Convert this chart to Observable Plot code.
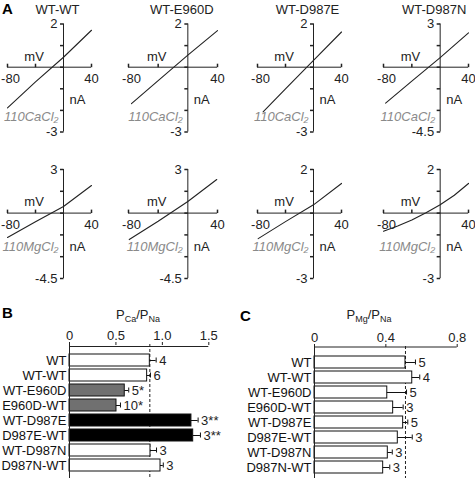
<!DOCTYPE html>
<html><head><meta charset="utf-8">
<script src="https://cdn.jsdelivr.net/npm/d3@7"></script>
<script src="https://cdn.jsdelivr.net/npm/@observablehq/plot@0.6"></script>
<style>
html,body{margin:0;padding:0;background:#fff;}
#fig{position:relative;width:475px;height:478px;overflow:hidden;font-family:"Liberation Sans",Arial,sans-serif;color:#222;}
.letter{position:absolute;font-weight:bold;font-size:15px;line-height:17px;color:#000;}
.ptitle{position:absolute;font-size:13px;line-height:13px;white-space:nowrap;transform:translateX(-50%);}
.ptitle sub{font-size:9px;vertical-align:-3px;line-height:0;}
</style></head><body><div id="fig"></div>
<script>
// ---------- Panel A data (I–V curves) ----------
const ivTitles = ["WT-WT", "WT-E960D", "WT-D987E", "WT-D987N"];
const voltRange = [-80, 40];
const voltTicks = [-80, -40, 40];
const caIon = "110CaCl₂";
const mgIon = "110MgCl₂";

const caVolt = [[-80, -40, 0, 40], [-76, -40, 0, 40], [-72, -40, 0, 40], [-77, -40, 0, 40]];
const caCurr = [[-1.88, -0.68, 0.46, 1.71], [-1.69, -0.62, 0.56, 1.69], [-2.07, -1.0, 0.32, 1.63], [-2.49, -0.97, 0.67, 2.38]];
const caYMin = [-3, -3, -3, -4.5];
const caYMax = [2, 2, 2, 3];
const caYTicks = [[-3, -2, -1, 0, 1, 2], [-3, -2, -1, 0, 1, 2], [-3, -2, -1, 0, 1, 2], [-4.5, -3, -1.5, 0, 1.5, 3]];

const mgVolt = [[-80, -40, 0, 40], [-79, -40, 0, 39], [-79, -40, 0, 40], [-80, -60, -40, -20, 0, 20, 40]];
const mgCurr = [[-1.68, -0.6, 0.45, 1.9], [-1.82, -0.56, 0.8, 2.31], [-1.17, -0.39, 0.38, 1.36], [-0.83, -0.59, -0.32, 0.02, 0.38, 0.82, 1.36]];
const mgYMin = [-4.5, -4.5, -3, -3];
const mgYMax = [3, 3, 2, 2];
const mgYTicks = [[-4.5, -3, -1.5, 0, 1.5, 3], [-4.5, -3, -1.5, 0, 1.5, 3], [-3, -2, -1, 0, 1, 2], [-3, -2, -1, 0, 1, 2]];

// ---------- Panels B, C data ----------
const mutants = ["WT", "WT-WT", "WT-E960D", "E960D-WT", "WT-D987E", "D987E-WT", "WT-D987N", "D987N-WT"];
const caGroups = ["open", "open", "E960D", "E960D", "D987E", "D987E", "open", "open"];
const pCa = [0.865, 0.836, 0.595, 0.506, 1.313, 1.332, 0.872, 0.98];
const pCaErr = [0.068, 0.036, 0.043, 0.043, 0.072, 0.078, 0.065, 0.03];
const pCaN = ["4", "6", "5*", "10*", "3**", "3**", "3", "3"];
const pCaTicks = [0, 0.5, 1.0, 1.5];

const pMg = [0.510, 0.548, 0.408, 0.441, 0.497, 0.467, 0.411, 0.385];
const pMgErr = [0.056, 0.042, 0.108, 0.056, 0.026, 0.081, 0.025, 0.037];
const pMgN = ["5", "4", "5", "3", "5", "3", "3", "3"];
const pMgTicks = [0, 0.4, 0.8];

// ---------- helpers ----------
const fig = document.getElementById("fig");
const FONT = "'Liberation Sans', Arial, sans-serif";
const INK = "#222";
function place(svg, left, top) {
  svg.style.position = "absolute";
  svg.style.left = left + "px";
  svg.style.top = top + "px";
  fig.appendChild(svg);
}
const baseStyle = {background: "transparent", fontFamily: FONT, fontSize: "13px", color: INK, overflow: "visible"};
const tickUp = {draw(ctx) { ctx.moveTo(0, 0); ctx.lineTo(0, -3.5); }};
const tickLeft = {draw(ctx) { ctx.moveTo(0, 0); ctx.lineTo(-3.5, 0); }};

// column boxes (svg left, width, margins)
const cols = [
  {left: 0, width: 116, mL: 7, mR: 25},
  {left: 116, width: 122, mL: 12, mR: 21},
  {left: 238, width: 120, mL: 19, mR: 17},
  {left: 358, width: 117, mL: 25, mR: 7}
];
const rows = [
  {top: 0, height: 146, mT: 23.5, mB: 14.5, ionDy: 50, nADy: 33, mvDy: -10, xlDy: 11.5, withTitle: true},
  {top: 146, height: 152, mT: 23, mB: 20, ionDy: 34, nADy: 34, mvDy: -11, xlDy: 12, withTitle: false}
];

function ivPanel(col, row, volt, curr, yMin, yMax, yTicks, title, ion) {
  const pts = volt.map((v, k) => ({v, i: curr[k]}));
  const marks = [
    Plot.ruleY([0], {x1: voltRange[0], x2: voltRange[1], stroke: INK}),
    Plot.ruleX([0], {y1: yMin, y2: yMax, stroke: INK}),
    Plot.dot(voltTicks, {x: d => d, y: 0, symbol: tickUp, r: 3, stroke: INK, fill: "none"}),
    Plot.dot(yTicks, {x: 0, y: d => d, symbol: tickLeft, r: 3, stroke: INK, fill: "none"}),
    Plot.line(pts, {x: "v", y: "i", stroke: INK, strokeWidth: 1.1}),
    Plot.text([yMax, yMin], {x: 0, y: d => d, text: d => String(d), textAnchor: "end", dx: -6, fill: INK}),
    Plot.text([voltRange[0]], {x: d => d, y: 0, text: d => String(d), dx: 3, dy: row.xlDy, fill: INK}),
    Plot.text([voltRange[1]], {x: d => d, y: 0, text: d => String(d), dy: row.xlDy, fill: INK}),
    Plot.text(["mV"], {x: -42, y: 0, text: d => d, dy: row.mvDy, fill: INK}),
    Plot.text(["nA"], {x: 0, y: 0, text: d => d, textAnchor: "start", dx: 6, dy: row.nADy, fill: INK}),
    Plot.text([ion], {x: 0, y: 0, text: d => d, textAnchor: "end", dx: -5, dy: row.ionDy, fontStyle: "italic", fill: "#8a8a8a"})
  ];
  if (row.withTitle) marks.push(Plot.text([title], {x: 0, y: yMax, text: d => d, dx: -6, dy: -14, fill: INK}));
  const svg = Plot.plot({
    width: col.width, height: row.height,
    marginLeft: col.mL, marginRight: col.mR, marginTop: row.mT, marginBottom: row.mB,
    x: {domain: voltRange, axis: null},
    y: {domain: [yMin, yMax], axis: null},
    style: baseStyle,
    marks
  });
  place(svg, col.left, row.top);
}

for (let c = 0; c < 4; c++) {
  ivPanel(cols[c], rows[0], caVolt[c], caCurr[c], caYMin[c], caYMax[c], caYTicks[c], ivTitles[c], caIon);
  ivPanel(cols[c], rows[1], mgVolt[c], mgCurr[c], mgYMin[c], mgYMax[c], mgYTicks[c], ivTitles[c], mgIon);
}

// ---------- bar panels ----------
function barPanel(opts) {
  const data = mutants.map((name, k) => ({name, value: opts.vals[k], err: opts.errs[k], n: opts.ns[k], group: opts.groups[k]}));
  const hi = d => d.value + d.err;
  const fmt = d => d === 0 ? "0" : d.toFixed(1);
  const svg = Plot.plot({
    width: opts.width, height: opts.height,
    marginLeft: opts.mL, marginRight: opts.mR, marginTop: opts.mT, marginBottom: 0,
    x: {domain: opts.domain},
    y: {domain: mutants, range: opts.yRange, paddingInner: 0.18, paddingOuter: 0.09},
    color: {domain: ["open", "E960D", "D987E"], range: ["#ffffff", "#707070", "#000000"]},
    style: baseStyle,
    marks: [
      Plot.ruleX([opts.vals[0]], {stroke: INK, strokeDasharray: "3,2"}),
      Plot.barX(data, {x: "value", y: "name", fill: "group", stroke: "#111", strokeWidth: 1}),
      Plot.ruleY(data, {x1: "value", x2: hi, y: "name", stroke: "#111"}),
      Plot.tickX(data, {x: hi, y: "name", insetTop: 3.5, insetBottom: 3.5, stroke: "#111"}),
      Plot.text(data, {x: hi, y: "name", text: "n", textAnchor: "start", dx: 3, fontSize: 13, fill: INK}),
      Plot.ruleX([0], {stroke: INK}),
      Plot.ruleY([mutants[0]], {x1: opts.domain[0], x2: opts.domain[1], dy: opts.axisDy, stroke: INK}),
      Plot.axisX({anchor: "top", ticks: opts.ticks, tickFormat: fmt, tickSize: 3, tickPadding: 2, label: null, fontSize: 13, fill: INK}),
      Plot.axisY({anchor: "left", tickSize: 0, tickPadding: 3, label: null, fontSize: 13, fill: "#111"})
    ]
  });
  place(svg, opts.left, opts.top);
}

barPanel({left: 0, top: 322, width: 235, height: 156, mL: 69, mR: 26.7, mT: 22,
  domain: [0, 1.5], ticks: pCaTicks, yRange: [28.2, 153.4], axisDy: -14,
  vals: pCa, errs: pCaErr, ns: pCaN, groups: caGroups});
barPanel({left: 235, top: 322, width: 240, height: 156, mL: 79, mR: 18.3, mT: 24,
  domain: [0, 0.8], ticks: pMgTicks, yRange: [31.9, 153.5], axisDy: -15.5,
  vals: pMg, errs: pMgErr, ns: pMgN, groups: mutants.map(() => "open")});

// ---------- HTML labels ----------
function html(cls, left, top, inner) {
  const d = document.createElement("div");
  d.className = cls; d.style.left = left + "px"; d.style.top = top + "px";
  d.innerHTML = inner; fig.appendChild(d);
}
html("letter", 2, 0, "A");
html("letter", 2, 304, "B");
html("letter", 240, 307, "C");
html("ptitle", 138, 308, "P<sub>Ca</sub>/P<sub>Na</sub>");
html("ptitle", 369, 308, "P<sub>Mg</sub>/P<sub>Na</sub>");
</script></body></html>
